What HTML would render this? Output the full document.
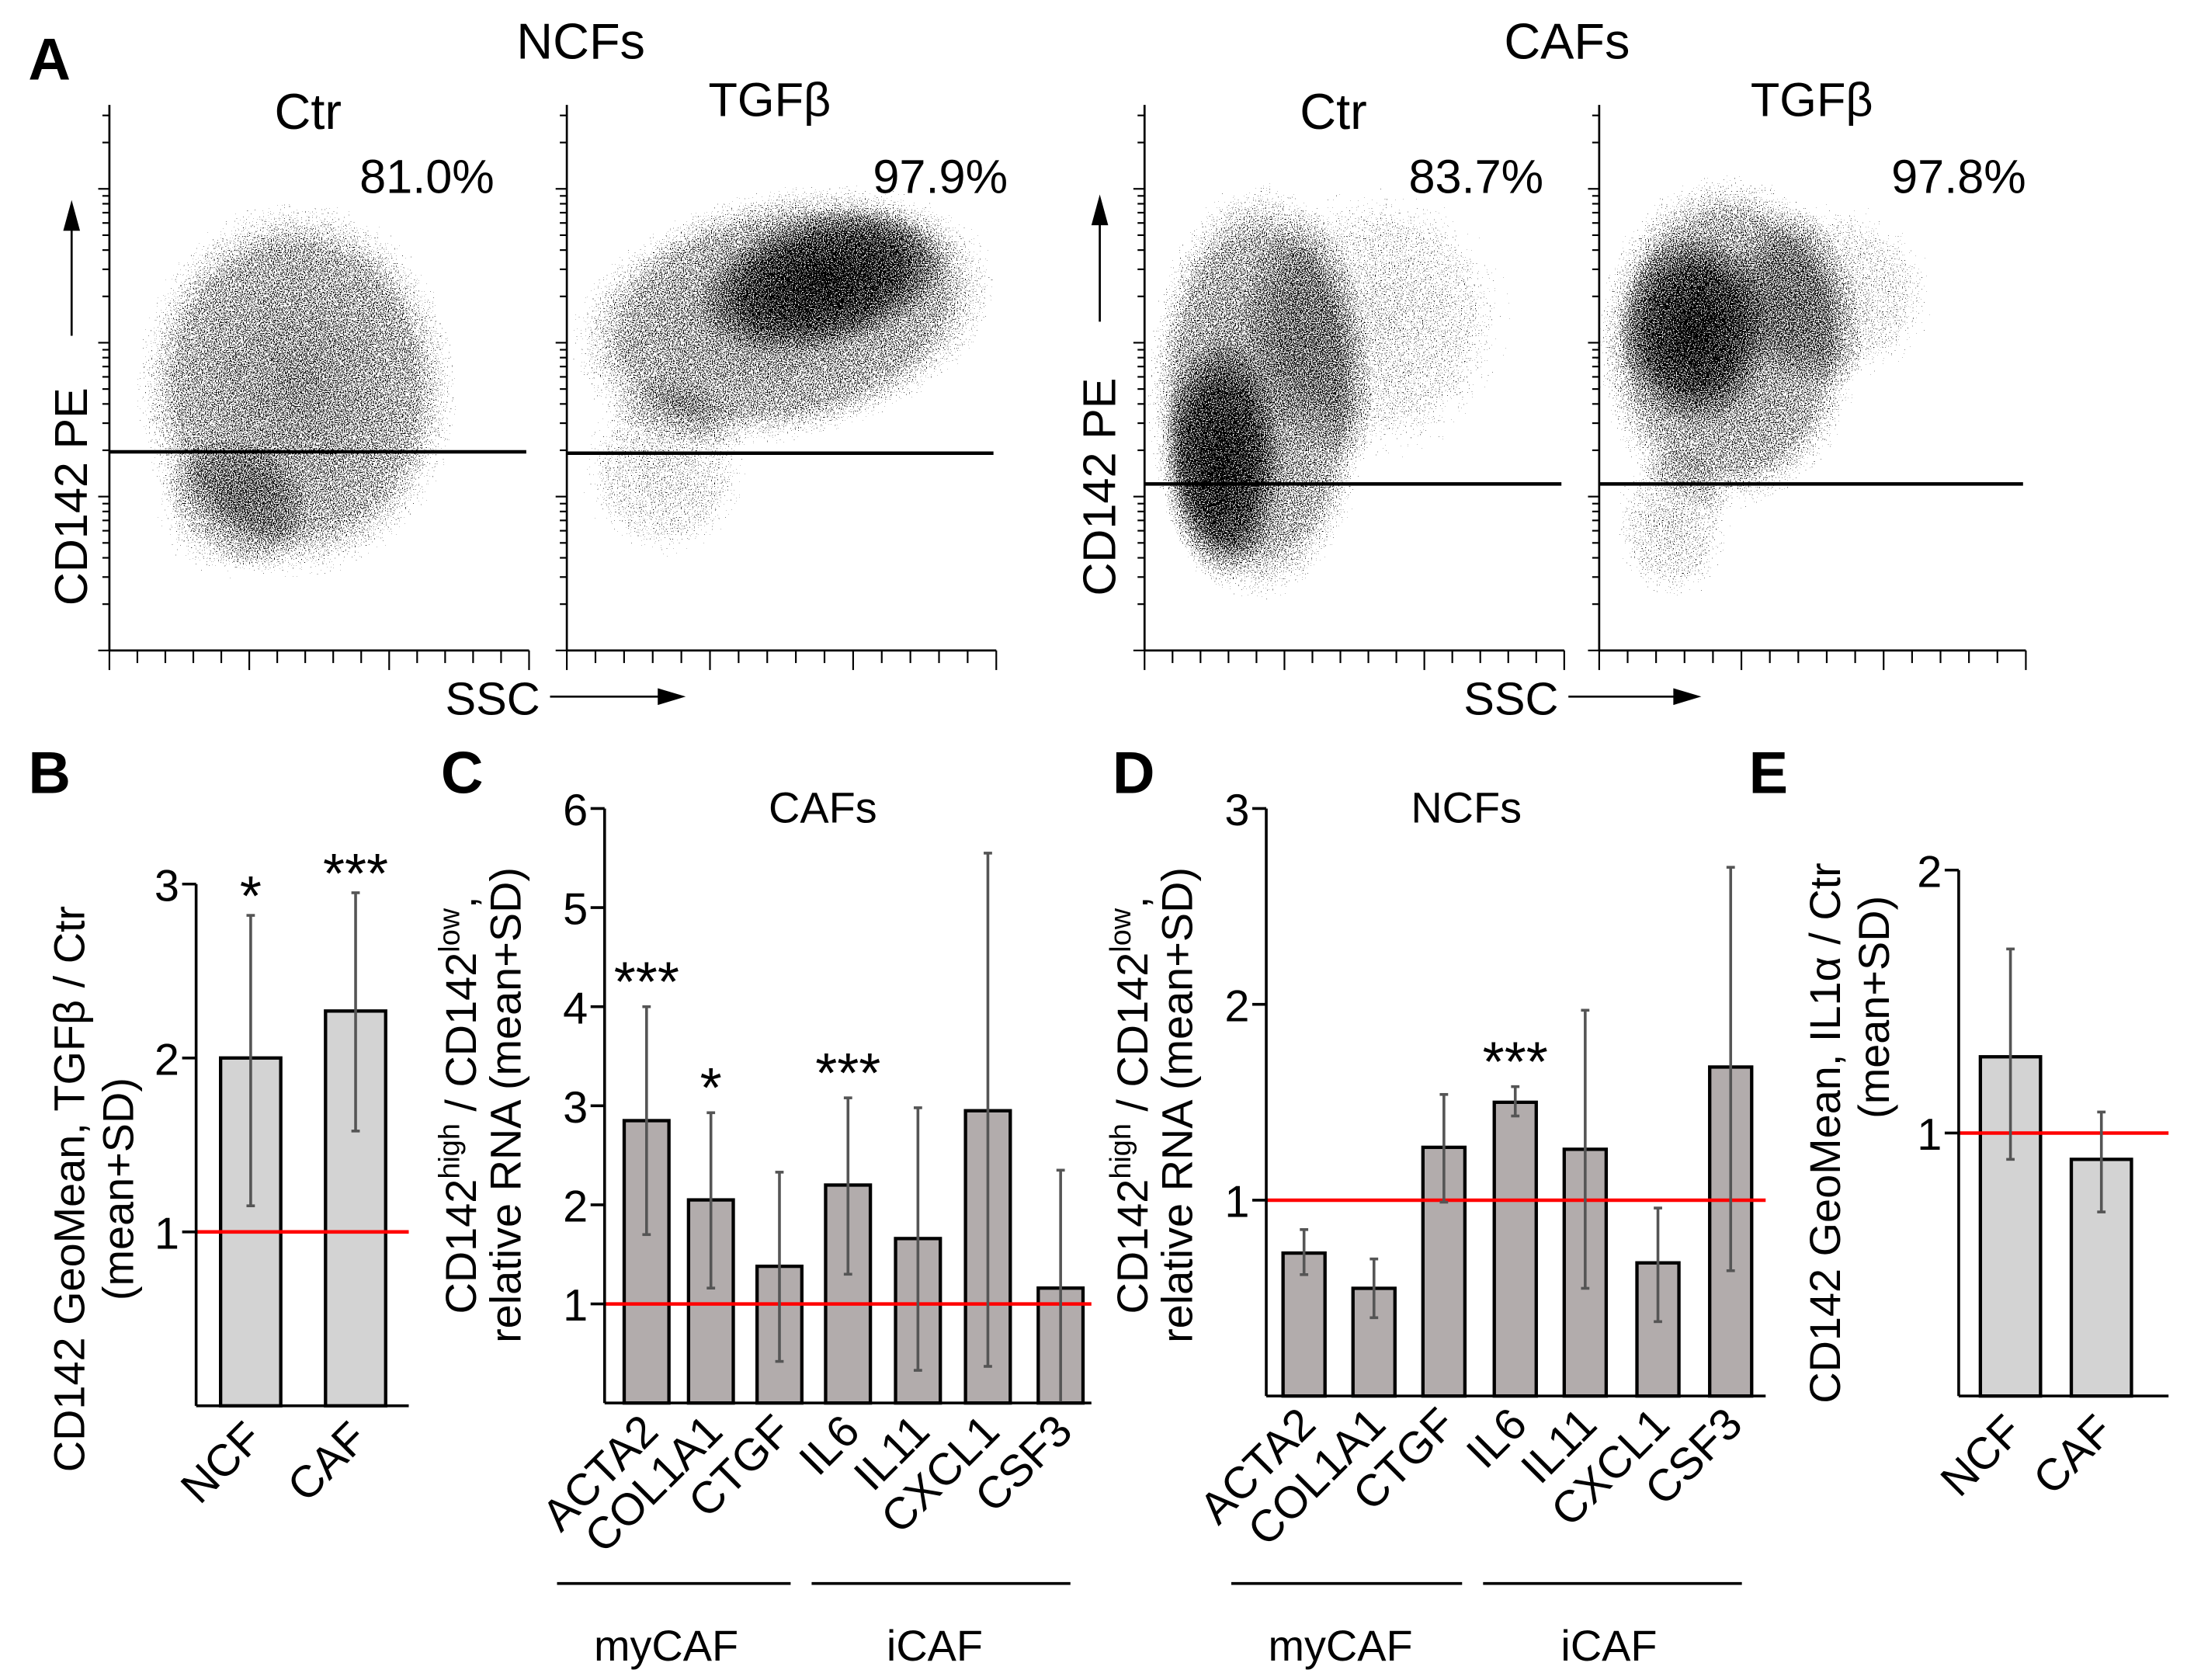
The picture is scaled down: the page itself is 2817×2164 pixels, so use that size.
<!DOCTYPE html>
<html><head><meta charset="utf-8">
<style>
html,body{margin:0;padding:0;background:#fff;}
svg{display:block;}
text{font-family:"Liberation Sans",sans-serif;fill:#000;}
.n{font-family:"Liberation Sans Narrow","Liberation Sans",sans-serif;}
</style></head>
<body>
<svg id="fig" width="2817" height="2164" viewBox="0 0 1563 1201" xmlns="http://www.w3.org/2000/svg">
<defs>
  <filter id="speck" x="-10%" y="-10%" width="120%" height="120%">
    <feTurbulence type="fractalNoise" baseFrequency="1.3" numOctaves="1" seed="3" result="noise"/>
    <feColorMatrix in="noise" type="matrix" values="0 0 0 0 0  0 0 0 0 0  0 0 0 0 0  2.2 0 0 0 -0.45" result="na"/>
    <feComposite in="SourceGraphic" in2="na" operator="arithmetic" k1="0" k2="6" k3="-6" k4="0" result="c"/>
    <feComponentTransfer in="c"><feFuncA type="discrete" tableValues="0 1 1 1"/></feComponentTransfer>
  </filter>
  <radialGradient id="g1"><stop offset="0" stop-color="#000" stop-opacity="0.65"/><stop offset="0.75" stop-color="#000" stop-opacity="0.55"/><stop offset="1" stop-color="#000" stop-opacity="0.12"/></radialGradient>
  <radialGradient id="g2"><stop offset="0" stop-color="#000" stop-opacity="0.95"/><stop offset="0.6" stop-color="#000" stop-opacity="0.6"/><stop offset="1" stop-color="#000" stop-opacity="0"/></radialGradient>
  <radialGradient id="g3"><stop offset="0" stop-color="#000" stop-opacity="0.4"/><stop offset="0.7" stop-color="#000" stop-opacity="0.3"/><stop offset="1" stop-color="#000" stop-opacity="0.05"/></radialGradient>
</defs>

<g>
  <text x="20" y="57" font-size="42" font-weight="bold">A</text>
  <text class="n" x="415" y="42" font-size="36" text-anchor="middle">NCFs</text>
  <text class="n" x="1120" y="42" font-size="36" text-anchor="middle">CAFs</text>

  <g id="scatters">
    <g filter="url(#speck)">
      <ellipse cx="212" cy="278" rx="115" ry="135" fill="url(#g1)"/>
      <ellipse cx="165" cy="365" rx="55" ry="50" fill="url(#g3)"/>
    </g>
    <g filter="url(#speck)">
      <ellipse cx="560" cy="225" rx="155" ry="90" fill="url(#g1)" transform="rotate(-12 560 225)"/>
      <ellipse cx="590" cy="200" rx="95" ry="50" fill="url(#g2)" transform="rotate(-15 590 200)"/>
      <ellipse cx="475" cy="335" rx="60" ry="65" fill="url(#g3)"/>
    </g>
    <g filter="url(#speck)">
      <ellipse cx="900" cy="280" rx="80" ry="150" fill="url(#g1)"/>
      <ellipse cx="872" cy="330" rx="45" ry="90" fill="url(#g2)"/>
      <ellipse cx="985" cy="230" rx="95" ry="100" fill="url(#g3)"/>
    </g>
    <g filter="url(#speck)">
      <ellipse cx="1235" cy="245" rx="95" ry="120" fill="url(#g1)"/>
      <ellipse cx="1210" cy="235" rx="55" ry="70" fill="url(#g2)"/>
      <ellipse cx="1195" cy="375" rx="42" ry="55" fill="url(#g3)"/>
      <ellipse cx="1310" cy="210" rx="75" ry="65" fill="url(#g3)"/>
    </g>
  </g>

  <text class="n" x="220" y="92" font-size="36" text-anchor="middle">Ctr</text>
  <text class="n" x="305" y="138" font-size="34" text-anchor="middle">81.0%</text>
  <text class="n" x="550" y="83" font-size="34" text-anchor="middle">TGFβ</text>
  <text class="n" x="672" y="138" font-size="34" text-anchor="middle">97.9%</text>
  <text class="n" x="953" y="92" font-size="36" text-anchor="middle">Ctr</text>
  <text class="n" x="1055" y="138" font-size="34" text-anchor="middle">83.7%</text>
  <text class="n" x="1295" y="83" font-size="34" text-anchor="middle">TGFβ</text>
  <text class="n" x="1400" y="138" font-size="34" text-anchor="middle">97.8%</text>

  <text x="62" y="355" font-size="33" text-anchor="middle" transform="rotate(-90 62 355)">CD142 PE</text>
  <line x1="51" y1="240" x2="51" y2="162" stroke="#000" stroke-width="1.5"/>
  <polygon points="51,143 45,165 57,165" fill="#000"/>
  <text x="797" y="348" font-size="33" text-anchor="middle" transform="rotate(-90 797 348)">CD142 PE</text>
  <line x1="786" y1="230" x2="786" y2="158" stroke="#000" stroke-width="1.5"/>
  <polygon points="786,139 780,161 792,161" fill="#000"/>
  <text x="352" y="511" font-size="33" text-anchor="middle">SSC</text>
  <line x1="393" y1="498" x2="472" y2="498" stroke="#000" stroke-width="1.5"/>
  <polygon points="490,498 470,492 470,504" fill="#000"/>
  <text x="1080" y="511" font-size="33" text-anchor="middle">SSC</text>
  <line x1="1121" y1="498" x2="1198" y2="498" stroke="#000" stroke-width="1.5"/>
  <polygon points="1216,498 1196,492 1196,504" fill="#000"/>
</g>

<text x="20" y="567" font-size="42" font-weight="bold">B</text>
<text x="315" y="567" font-size="42" font-weight="bold">C</text>
<text x="795" y="567" font-size="42" font-weight="bold">D</text>
<text x="1250" y="567" font-size="42" font-weight="bold">E</text>
<text x="588" y="588" font-size="31" text-anchor="middle">CAFs</text>
<text x="1048" y="588" font-size="31" text-anchor="middle">NCFs</text>

<text x="60" y="850" font-size="31" text-anchor="middle" transform="rotate(-90 60 850)">CD142 GeoMean, TGFβ / Ctr</text>
<text x="95" y="850" font-size="31" text-anchor="middle" transform="rotate(-90 95 850)">(mean+SD)</text>
<text x="340" y="790" font-size="31" text-anchor="middle" transform="rotate(-90 340 790)">CD142<tspan font-size="21" dy="-12">high</tspan><tspan dy="12"> / CD142</tspan><tspan font-size="21" dy="-12">low</tspan><tspan dy="12">,</tspan></text>
<text x="372" y="790" font-size="31" text-anchor="middle" transform="rotate(-90 372 790)">relative RNA (mean+SD)</text>
<text x="820" y="790" font-size="31" text-anchor="middle" transform="rotate(-90 820 790)">CD142<tspan font-size="21" dy="-12">high</tspan><tspan dy="12"> / CD142</tspan><tspan font-size="21" dy="-12">low</tspan><tspan dy="12">,</tspan></text>
<text x="852" y="790" font-size="31" text-anchor="middle" transform="rotate(-90 852 790)">relative RNA (mean+SD)</text>
<text x="1315" y="810" font-size="31" text-anchor="middle" transform="rotate(-90 1315 810)">CD142 GeoMean, IL1α / Ctr</text>
<text x="1350" y="720" font-size="31" text-anchor="middle" transform="rotate(-90 1350 720)">(mean+SD)</text>

<line x1="398" y1="1132" x2="565" y2="1132" stroke="#000" stroke-width="2"/>
<line x1="580" y1="1132" x2="765" y2="1132" stroke="#000" stroke-width="2"/>
<text x="476" y="1187" font-size="31" text-anchor="middle">myCAF</text>
<text x="668" y="1187" font-size="31" text-anchor="middle">iCAF</text>
<line x1="880" y1="1132" x2="1045" y2="1132" stroke="#000" stroke-width="2"/>
<line x1="1060" y1="1132" x2="1245" y2="1132" stroke="#000" stroke-width="2"/>
<text x="958" y="1187" font-size="31" text-anchor="middle">myCAF</text>
<text x="1150" y="1187" font-size="31" text-anchor="middle">iCAF</text>

<g id="dyn"></g>
</svg>

<script>
const flowPlots = ["ncf-ctr","ncf-tgfb","caf-ctr","caf-tgfb"];
const flowX0 = [78, 405, 818, 1143];
const flowX1 = [378, 712, 1118, 1448];
const flowGate = [323, 324, 346, 346];

const bCats = ["NCF","CAF"];
const bMeans = [2.0, 2.27];
const bLow = [1.15, 1.58];
const bHigh = [2.82, 2.95];
const bStars = ["*","***"];
const bTicks = [1,2,3];

const cCats = ["ACTA2","COL1A1","CTGF","IL6","IL11","CXCL1","CSF3"];
const cMeans = [2.85, 2.05, 1.38, 2.2, 1.66, 2.95, 1.16];
const cLow = [1.7, 1.16, 0.42, 1.3, 0.33, 0.37, 0.0];
const cHigh = [4.0, 2.93, 2.33, 3.08, 2.98, 5.55, 2.35];
const cStars = ["***","*","","***","","",""];
const cTicks = [1,2,3,4,5,6];

const dCats = ["ACTA2","COL1A1","CTGF","IL6","IL11","CXCL1","CSF3"];
const dMeans = [0.73, 0.55, 1.27, 1.5, 1.26, 0.68, 1.68];
const dLow = [0.62, 0.4, 0.99, 1.43, 0.55, 0.38, 0.64];
const dHigh = [0.85, 0.7, 1.54, 1.58, 1.97, 0.96, 2.7];
const dStars = ["","","","***","","",""];
const dTicks = [1,2,3];

const eCats = ["NCF","CAF"];
const eMeans = [1.29, 0.9];
const eLow = [0.9, 0.7];
const eHigh = [1.7, 1.08];
const eStars = ["",""];
const eTicks = [1,2];

const NS = "http://www.w3.org/2000/svg";
const root = document.getElementById("dyn");
function mk(tag, attrs, parent){
  const e = document.createElementNS(NS, tag);
  for (const k in attrs) e.setAttribute(k, attrs[k]);
  (parent||root).appendChild(e);
  return e;
}

flowPlots.forEach((p,i)=>{
  const g = mk("g",{});
  
  
  const x0 = flowX0[i], x1 = flowX1[i], yT = 75, yB = 465;
  mk("line",{x1:x0,y1:yT,x2:x0,y2:yB,stroke:"#000","stroke-width":1.5},g);
  mk("line",{x1:x0,y1:yB,x2:x1,y2:yB,stroke:"#000","stroke-width":1.5},g);
  const nx = 15;
  for(let k=0;k<=nx;k++){
    const x = x0 + (x1-x0)*k/nx;
    mk("line",{x1:x,y1:yB,x2:x,y2:yB+(k%5===0?14:9),stroke:"#000","stroke-width":1.2},g);
  }
  const decades = [yB, yB-110, yB-220, yB-330, yB-440];
  for(let d=0;d<4;d++){
    const base = decades[d], top = decades[d+1];
    for(let m=1;m<=9;m++){
      const y = base - (base-top)*Math.log10(m);
      if(y<yT-2) continue;
      mk("line",{x1:x0,y1:y,x2:x0-(m===1?8:5),y2:y,stroke:"#000","stroke-width":1.2},g);
    }
  }
  const gate = mk("line",{x1:x0,y1:flowGate[i],x2:x1-2,y2:flowGate[i],stroke:"#000","stroke-width":2.5},g);
  
  
});

function barPanel(opt){
  const {id,cats,means,low,high,stars,ticks,ax,yTop,yZero,xEnd,tickMax,centers,bw,fill,labelY,labelFs} = opt;
  const g = mk("g",{});
  
  
  const yScale = v => yZero - (yZero - yTop) * v / tickMax;
  cats.forEach((c,i)=>{
    const cx = centers[i];
    const r = mk("rect",{x:cx-bw/2,y:yScale(means[i]),width:bw,height:yZero-yScale(means[i]),fill:fill,stroke:"#000","stroke-width":2.4},g);
    
    
  });
  const ref = mk("line",{x1:ax,y1:yScale(1),x2:xEnd,y2:yScale(1),stroke:"#ff0000","stroke-width":2.5},g);
  
  
  cats.forEach((c,i)=>{
    const cx = centers[i];
    const eg = mk("g",{stroke:"#555","stroke-width":2},g);
    
    
    mk("line",{x1:cx,y1:yScale(low[i]),x2:cx,y2:yScale(high[i])},eg);
    mk("line",{x1:cx-3,y1:yScale(low[i]),x2:cx+3,y2:yScale(low[i])},eg);
    mk("line",{x1:cx-3,y1:yScale(high[i]),x2:cx+3,y2:yScale(high[i])},eg);
    if(stars[i]){
      const s = mk("text",{x:cx,y:0,"font-size":40,"text-anchor":"middle"},g);
      s.setAttribute('y', yScale(high[i]) + (id==="b"? 0: -4));
      s.textContent = stars[i];
      
      
    }
  });
  mk("line",{x1:ax,y1:yTop,x2:ax,y2:yZero,stroke:"#000","stroke-width":2},g);
  mk("line",{x1:ax,y1:yZero,x2:xEnd,y2:yZero,stroke:"#000","stroke-width":2},g);
  ticks.forEach(t=>{
    const y = yScale(t);
    mk("line",{x1:ax-10,y1:y,x2:ax,y2:y,stroke:"#000","stroke-width":2},g);
    const tx = mk("text",{x:ax-12,y:y+12,"font-size":32,"text-anchor":"end"},g);
    tx.textContent = t;
    
    
  });
  cats.forEach((c,i)=>{
    const x = centers[i]+10, y = labelY;
    const t = mk("text",{x:x,y:y,"font-size":labelFs,"text-anchor":"end",transform:`rotate(-45 ${x} ${y})`},g);
    t.textContent = c;
    
    
  });
}

barPanel({id:"b",cats:bCats,means:bMeans,low:bLow,high:bHigh,stars:bStars,ticks:bTicks,
  ax:140,yTop:632,yZero:1005,xEnd:292,tickMax:3,centers:[179,254],bw:43,fill:"#d3d3d3",labelY:1030,labelFs:32});
barPanel({id:"c",cats:cCats,means:cMeans,low:cLow,high:cHigh,stars:cStars,ticks:cTicks,
  ax:432,yTop:578,yZero:1003,xEnd:780,tickMax:6,centers:[462,508,557,606,656,706,758],bw:32,fill:"#b2acac",labelY:1025,labelFs:32});
barPanel({id:"d",cats:dCats,means:dMeans,low:dLow,high:dHigh,stars:dStars,ticks:dTicks,
  ax:905,yTop:578,yZero:998,xEnd:1262,tickMax:3,centers:[932,982,1032,1083,1133,1185,1237],bw:30,fill:"#b2acac",labelY:1020,labelFs:32});
barPanel({id:"e",cats:eCats,means:eMeans,low:eLow,high:eHigh,stars:eStars,ticks:eTicks,
  ax:1400,yTop:622,yZero:998,xEnd:1550,tickMax:2,centers:[1437,1502],bw:43,fill:"#d3d3d3",labelY:1025,labelFs:32});
</script>
</body></html>
